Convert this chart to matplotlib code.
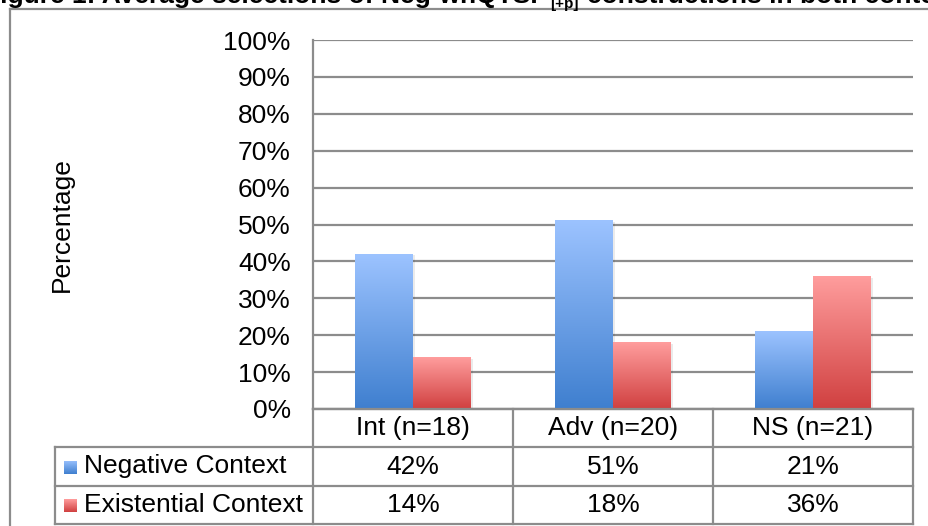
import numpy as np
import matplotlib.pyplot as plt
from matplotlib.colors import LinearSegmentedColormap
from matplotlib.lines import Line2D
from matplotlib.transforms import blended_transform_factory

# data
categories = ["Int (n=18)", "Adv (n=20)", "NS (n=21)"]
series_names = ["Negative Context", "Existential Context"]
negative = [42, 51, 21]
existential = [14, 18, 36]
y_ticks = list(range(0, 101, 10))

plt.rcParams['font.family'] = ['Liberation Sans', 'DejaVu Sans']

W, H = 929, 526
FS = 19
fig = plt.figure(figsize=(W / 100, H / 100), dpi=100)


def fx(px):
    return px / W


def fy(py):
    return 1 - py / H


grey = '#8c8c8c'
blue_cmap = LinearSegmentedColormap.from_list('b', ['#3f7fcf', '#9cc3ff'])
red_cmap = LinearSegmentedColormap.from_list('r', ['#d04040', '#ff9d9d'])
grad = np.linspace(0, 1, 256).reshape(-1, 1)

#### main axes ####
ax = fig.add_axes([fx(313), fy(409), fx(913) - fx(313), fy(40) - fy(409)])
x = np.arange(len(categories))
bw = 0.29

for vals, off, cmap in [(negative, -bw / 2, blue_cmap), (existential, bw / 2, red_cmap)]:
    bars = ax.bar(x + off, vals, width=bw, color='none', zorder=3)
    for b in bars:
        x0, w, h = b.get_x(), b.get_width(), b.get_height()
        # faint shadow
        ax.bar(x0 + w / 2 + 0.012, h, width=w, bottom=-0.4, color='#000000',
               alpha=0.08, zorder=2)
        ax.imshow(grad, extent=[x0, x0 + w, 0, h], origin='lower',
                  aspect='auto', cmap=cmap, zorder=3)

ax.set_xlim(-0.5, 2.5)
ax.set_ylim(0, 100)
ax.set_yticks(y_ticks)
ax.set_yticklabels([f"{v}%" for v in y_ticks])
ax.set_xticks([])
ax.yaxis.grid(True, color=grey, lw=1.6)
ax.set_axisbelow(True)
ax.tick_params(axis='y', length=0, pad=16, labelsize=FS)
for s in ['top', 'right']:
    ax.spines[s].set_visible(False)
ax.spines['left'].set_color(grey)
ax.spines['left'].set_linewidth(1.6)
ax.spines['bottom'].set_color(grey)
ax.spines['bottom'].set_linewidth(1.6)

fig.text(fx(62), fy(225), "Percentage", rotation=90, ha='center', va='center',
         fontsize=FS)

#### data table under the plot ####
rows_y = [409, 447, 486, 524]
def hline(x0, x1, y):
    fig.add_artist(Line2D([fx(x0), fx(x1)], [fy(y), fy(y)], color=grey, lw=1.6))
def vline(xp, y0, y1):
    fig.add_artist(Line2D([fx(xp), fx(xp)], [fy(y0), fy(y1)], color=grey, lw=1.6))

hline(313, 913, 409)
for yy in rows_y[1:]:
    hline(55, 913, yy)
vline(55, 447, 524)
for xp in [313, 513, 713, 913]:
    vline(xp, 409, 524)

tr = blended_transform_factory(ax.transData, fig.transFigure)
row_centers = [(rows_y[i] + rows_y[i + 1]) / 2 for i in range(3)]
for i, cat in enumerate(categories):
    fig.text(x[i], fy(row_centers[0]), cat, transform=tr, ha='center',
             va='center', fontsize=FS)
    fig.text(x[i], fy(row_centers[1]), f"{negative[i]}%", transform=tr,
             ha='center', va='center', fontsize=FS)
    fig.text(x[i], fy(row_centers[2]), f"{existential[i]}%", transform=tr,
             ha='center', va='center', fontsize=FS)

for name, yc, cmap in zip(series_names, row_centers[1:], [blue_cmap, red_cmap]):
    sq = fig.add_axes([fx(64), fy(yc + 7), 13 / W, 13 / H])
    sq.imshow(grad, origin='lower', aspect='auto', cmap=cmap)
    sq.axis('off')
    fig.text(fx(84), fy(yc), name, ha='left', va='center', fontsize=FS)

#### outer frame and clipped title ####
fig.add_artist(Line2D([fx(10), fx(10)], [fy(9), 0], color=grey, lw=1.6))
fig.add_artist(Line2D([fx(10), 1], [fy(9), fy(9)], color=grey, lw=1.6))

fig.text(fx(548), fy(3), "Figure 1: Average selections of Neg-whQTSP",
         ha='right', va='baseline', fontsize=19, fontweight='bold')
fig.text(fx(550), fy(8), "[+p]", ha='left', va='baseline', fontsize=11,
         fontweight='bold')
fig.text(fx(587), fy(3), "constructions in both contexts", ha='left',
         va='baseline', fontsize=19, fontweight='bold')

plt.savefig("out.png", dpi=100)
